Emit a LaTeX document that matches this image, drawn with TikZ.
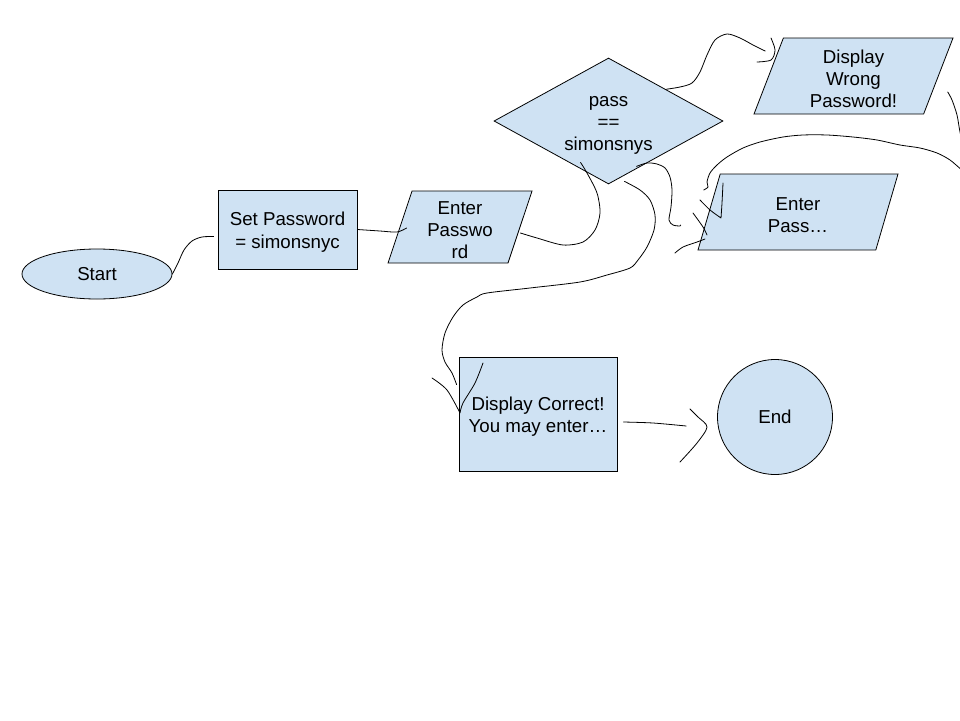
\documentclass[tikz,border=0pt]{standalone}
\usepackage{fontspec}
\setmainfont{Liberation Sans}
\usetikzlibrary{shapes.geometric}
\definecolor{boxblue}{HTML}{CFE2F3}
\newcommand{\topline}{\rule{0pt}{19pt}}

\begin{document}
\begin{tikzpicture}[x=1pt,y=-1pt,
    blk/.style={draw=black,fill=boxblue,line width=.8pt,align=center,inner sep=1pt,
      font=\fontsize{18.7}{22.4}\selectfont},
    io/.style={blk,trapezium,trapezium stretches body},
    hand/.style={line width=.8pt,line cap=round,line join=round}]
    \useasboundingbox (0,0) rectangle (960,720);
    \node[blk,ellipse,minimum width=150,minimum height=50] (start) at (97,274) {Start};
    \node[blk,minimum width=139,minimum height=79] (setpw) at (287.5,229.5) {\topline Set Password\\= simonsnyc};
    \node[io,trapezium left angle=70,trapezium right angle=110,minimum width=144,minimum height=72] (enterpw) at (460,227) {\topline Enter\\Passwo\\rd};
    \node[blk,diamond,shape aspect=1.8,minimum width=229,minimum height=126] (check) at (608.5,121) {\topline pass\\==\\simonsnys};
    \node[io,trapezium left angle=66,trapezium right angle=114,minimum width=199,minimum height=76] (wrong) at (853.5,76) {\topline Display\\Wrong\\Password!};
    \node[io,trapezium left angle=63,trapezium right angle=117,minimum width=200,minimum height=76] (again) at (798,212) {\topline Enter\\Pass…};
    \node[blk,minimum width=158,minimum height=114] (correct) at (538,414) {\topline Display Correct!\\You may enter…};
    \node[blk,circle,minimum size=115] (end) at (775,417) {End};

    \draw[hand] plot[smooth] coordinates {(start.east) (178,263) (184,250) (192,241) (202,237) ([shift={(-4,7)}]setpw.west)};
    \draw[hand] plot[smooth] coordinates {(setpw.east) (380,231) (397,232) ([shift={(7,1)}]enterpw.west)};
    \draw[hand] plot[smooth] coordinates {([shift={(0,6)}]enterpw.east) (537,238) (563,245) (583,242) (595,230) (600,213) (597,193) (587,173) ([shift={(-28,-22)}]check.south)};
    \draw[hand] plot[smooth] coordinates {(check.north east) (680,87) (692,83) (700,72) (707,55) (715,40) (727,34) (740,38) (753,45) (763,50) ([shift={(-3,-25)}]wrong.west)}
      plot[smooth] coordinates {(771,38) (775,50) (771,60) (757,62)};
    \draw[hand] plot[smooth] coordinates {([shift={(9,16)}]wrong.east) (952,100) (957,115) (960,132) (966,158) (968,172) (962,170) (950,160) (937,153) (920,148) (900,145) (877,140) (853,137) (827,135) (803,135) (783,137) (760,142) (743,148) (727,157) (717,165) (710,173) (707,182) (708,187) ([shift={(-5,-22)}]again.west)}
      plot[smooth] coordinates {(723,183) (722,203) (721,218)}
      plot[smooth] coordinates {(700,200) (710,210) (721,218)};
    \draw[hand] plot[smooth] coordinates {([shift={(28,-18)}]check.south) (647,163) (657,164) (665,168) (670,177) (672,190) (671,207) (669,220) (673,225) (680,226) ([shift={(-28,13)}]again.west)}
      plot[smooth] coordinates {(693,213) (703,227) (707,235)}
      plot[smooth] coordinates {(675,253) (683,247) (697,242) (705,239)};
    \draw[hand] plot[smooth] coordinates {([shift={(16,-3)}]check.south) (640,190) (650,200) (655,215) (654,230) (647,247) (638,260) (630,268) (607,275) (580,282) (530,288) (487,293) (477,297) (463,305) (453,317) (445,333) (442,350) (445,362) (452,373) ([shift={(-2,28)}]correct.north west)}
      plot[smooth] coordinates {(432,378) (447,390) (460,413)}
      plot[smooth] coordinates {(483,363) (475,383) (463,403) (460,413)};
    \draw[hand] plot[smooth] coordinates {([shift={(6,8)}]correct.east) (653,423) ([shift={(-31,9)}]end.west)}
      plot[smooth] coordinates {(690,409) (698,417) (707,427) (697,443) (680,462)};
\end{tikzpicture}
\end{document}
